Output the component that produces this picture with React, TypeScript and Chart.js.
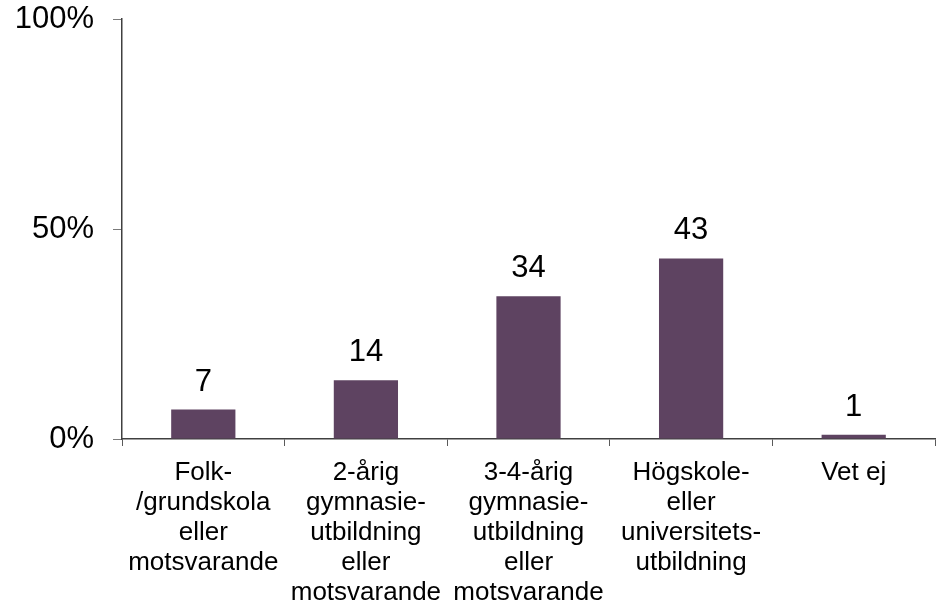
import React, { useEffect, useRef } from 'react';
import { Chart, registerables } from 'chart.js';

Chart.register(...registerables);

const categories: string[][] = [
  ['Folk-', '/grundskola', 'eller', 'motsvarande'],
  ['2-årig', 'gymnasie-', 'utbildning', 'eller', 'motsvarande'],
  ['3-4-årig', 'gymnasie-', 'utbildning', 'eller', 'motsvarande'],
  ['Högskole-', 'eller', 'universitets-', 'utbildning'],
  ['Vet ej'],
];
const values: number[] = [7, 14, 34, 43, 1];
const yTicks: number[] = [0, 50, 100];

const FONT = '"Liberation Sans", Arial, sans-serif';

export default function App() {
  const ref = useRef<HTMLCanvasElement>(null);

  useEffect(() => {
    if (!ref.current) return;
    const valueLabels = {
      id: 'valueLabels',
      afterDatasetsDraw(chart: any) {
        const ctx = chart.ctx;
        const meta = chart.getDatasetMeta(0);
        ctx.save();
        ctx.font = `31px ${FONT}`;
        ctx.fillStyle = '#000';
        ctx.textAlign = 'center';
        ctx.textBaseline = 'alphabetic';
        meta.data.forEach((bar: any, i: number) => {
          ctx.fillText(String(values[i]), bar.x, bar.y - 19);
        });
        ctx.restore();
      },
    };

    const chart = new Chart(ref.current, {
      type: 'bar',
      data: {
        labels: categories,
        datasets: [
          {
            data: values,
            backgroundColor: '#5e4361',
            borderWidth: 0,
            barPercentage: 0.395,
            categoryPercentage: 1,
          },
        ],
      },
      options: {
        animation: false,
        responsive: false,
        devicePixelRatio: 1,
        layout: { padding: { left: 14, right: 7, top: 19, bottom: 0 } },
        plugins: {
          legend: { display: false },
          tooltip: { enabled: false },
        },
        scales: {
          x: {
            grid: {
              display: true,
              drawOnChartArea: false,
              drawTicks: true,
              tickLength: 7,
              color: '#5a5a5a',
              offset: true,
            },
            border: { display: true, color: '#404040', width: 1.5 },
            ticks: {
              color: '#000',
              font: { family: FONT, size: 26, lineHeight: 1.15 },
              padding: 12,
              maxRotation: 0,
              minRotation: 0,
              autoSkip: false,
            },
            afterFit: (s: any) => {
              s.height = 168;
              s.paddingLeft = 0;
              s.paddingRight = 0;
            },
          },
          y: {
            min: 0,
            max: 100,
            afterBuildTicks: (s: any) => {
              s.ticks = yTicks.map((v) => ({ value: v }));
            },
            grid: {
              display: true,
              drawOnChartArea: false,
              drawTicks: true,
              tickLength: 9,
              color: '#7a7a7a',
            },
            border: { display: true, color: '#404040', width: 1.5 },
            ticks: {
              color: '#000',
              font: { family: FONT, size: 31 },
              padding: 19,
              callback: (v: any) => `${v}%`,
            },
            afterFit: (s: any) => {
              s.width = 108;
              s.paddingTop = 0;
              s.paddingBottom = 0;
            },
          },
        },
      },
      plugins: [valueLabels],
    });
    return () => chart.destroy();
  }, []);

  return (
    <div
      style={{
        position: 'fixed',
        left: 0,
        top: 0,
        width: 942,
        height: 607,
        background: '#fff',
      }}
    >
      <canvas ref={ref} width={942} height={607} style={{ display: 'block' }} />
    </div>
  );
}
